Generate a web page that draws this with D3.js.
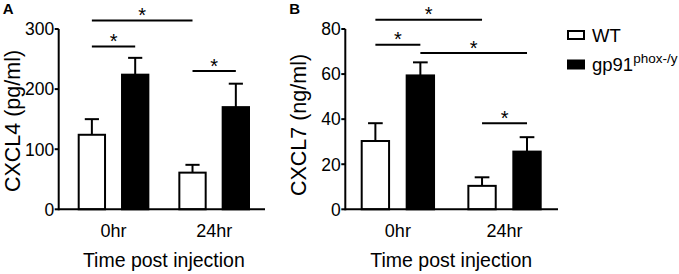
<html>
<head>
<script src="https://d3js.org/d3.v7.min.js"></script>
<style>
  body { margin: 0; background: #fff; }
  text { font-family: "Liberation Sans", Arial, sans-serif; fill: #000; }
</style>
</head>
<body>
<svg width="679" height="274"></svg>
<script>
// chart values
const groups = ["0hr", "24hr"];
const series = ["WT", "gp91"];

const cxcl4WT = [124, 61];
const cxcl4WTsem = [26, 13];
const cxcl4Gp = [224, 170];
const cxcl4GpSem = [28, 39];
const cxcl4Ticks = [0, 100, 200, 300];
// comparisons: [series, group] -> [series, group] at a level in data units
const cxcl4Sig = [
  {a: ["WT", "0hr"], b: ["WT", "24hr"], level: 314},
  {a: ["WT", "0hr"], b: ["gp91", "0hr"], level: 271},
  {a: ["WT", "24hr"], b: ["gp91", "24hr"], level: 230}
];

const cxcl7WT = [30.3, 10.4];
const cxcl7WTsem = [7.9, 3.8];
const cxcl7Gp = [59.4, 25.6];
const cxcl7GpSem = [5.8, 6.4];
const cxcl7Ticks = [0, 20, 40, 60, 80];
const cxcl7Sig = [
  {a: ["WT", "0hr"], b: ["WT", "24hr"], level: 84.1},
  {a: ["WT", "0hr"], b: ["gp91", "0hr"], level: 73},
  {a: ["gp91", "0hr"], b: ["gp91", "24hr"], level: 69.3},
  {a: ["WT", "24hr"], b: ["gp91", "24hr"], level: 38.2}
];

const svg = d3.select("svg");

function drawPanel(opt) {
  const g = svg.append("g");
  const y = d3.scaleLinear().domain([0, opt.max]).range([209.3, 29]);
  const x = d3.scaleBand().domain(groups).range(opt.range)
              .paddingInner(opt.padInner).paddingOuter(0);
  const xs = d3.scaleBand().domain(series).range([0, x.bandwidth()])
               .paddingInner(opt.padSub).paddingOuter(0);

  const bars = [];
  groups.forEach((grp, i) => {
    bars.push({s: "WT", g: grp, v: opt.wt[i], e: opt.wtSem[i]});
    bars.push({s: "gp91", g: grp, v: opt.gp[i], e: opt.gpSem[i]});
  });
  const cx = (s, grp) => x(grp) + xs(s) + xs.bandwidth() / 2;

  // error bars (upper only)
  g.selectAll("line.err").data(bars).join("line").attr("class", "err")
    .attr("x1", d => cx(d.s, d.g)).attr("x2", d => cx(d.s, d.g))
    .attr("y1", d => y(d.v)).attr("y2", d => y(d.v + d.e))
    .attr("stroke", "#000").attr("stroke-width", 2);
  g.selectAll("line.cap").data(bars).join("line").attr("class", "cap")
    .attr("x1", d => cx(d.s, d.g) - xs.bandwidth() / 4)
    .attr("x2", d => cx(d.s, d.g) + xs.bandwidth() / 4)
    .attr("y1", d => y(d.v + d.e)).attr("y2", d => y(d.v + d.e))
    .attr("stroke", "#000").attr("stroke-width", 2);

  g.selectAll("rect.bar").data(bars).join("rect").attr("class", "bar")
    .attr("x", d => x(d.g) + xs(d.s) + 1)
    .attr("width", xs.bandwidth() - 2)
    .attr("y", d => y(d.v))
    .attr("height", d => y(0) - y(d.v))
    .attr("fill", d => d.s === "WT" ? "#fff" : "#000")
    .attr("stroke", "#000").attr("stroke-width", 2);

  // axes
  g.append("line").attr("x1", opt.axisX).attr("x2", opt.axisEnd)
    .attr("y1", y(0)).attr("y2", y(0)).attr("stroke", "#000").attr("stroke-width", 2);
  g.append("line").attr("x1", opt.axisX).attr("x2", opt.axisX)
    .attr("y1", y(0) + 1).attr("y2", y(opt.max)).attr("stroke", "#000").attr("stroke-width", 2);
  g.selectAll("line.tick").data(opt.ticks).join("line").attr("class", "tick")
    .attr("x1", opt.axisX - 4).attr("x2", opt.axisX)
    .attr("y1", d => y(d)).attr("y2", d => y(d))
    .attr("stroke", "#000").attr("stroke-width", 2);
  g.selectAll("text.ytl").data(opt.ticks).join("text").attr("class", "ytl")
    .attr("x", opt.axisX - 4.5).attr("y", d => y(d))
    .attr("dy", "0.36em").attr("text-anchor", "end")
    .style("font-size", "17.5px").text(d => d);
  g.selectAll("text.xtl").data(groups).join("text").attr("class", "xtl")
    .attr("x", d => x(d) + x.bandwidth() / 2).attr("y", 237)
    .attr("text-anchor", "middle").style("font-size", "18px").text(d => d);

  g.append("text").attr("x", (opt.range[0] + opt.range[1]) / 2).attr("y", 267)
    .attr("text-anchor", "middle").style("font-size", "19.5px").text("Time post injection");
  g.append("text")
    .attr("transform", `translate(${opt.axisX - 39},${opt.labelY}) rotate(-90)`)
    .attr("text-anchor", "middle").style("font-size", "21.5px").text(opt.label);
  g.append("text").attr("x", opt.axisX - 56).attr("y", 14)
    .style("font-size", "15px").style("font-weight", "bold").text(opt.letter);

  // significance bars
  g.selectAll("line.sig").data(opt.sig).join("line").attr("class", "sig")
    .attr("x1", d => cx(d.a[0], d.a[1])).attr("x2", d => cx(d.b[0], d.b[1]))
    .attr("y1", d => y(d.level)).attr("y2", d => y(d.level))
    .attr("stroke", "#000").attr("stroke-width", 2);
  g.selectAll("text.star").data(opt.sig).join("text").attr("class", "star")
    .attr("x", d => (cx(d.a[0], d.a[1]) + cx(d.b[0], d.b[1])) / 2)
    .attr("y", d => y(d.level) + 1.5)
    .attr("text-anchor", "middle").style("font-size", "20px").text("*");
}

drawPanel({letter: "A", label: "CXCL4 (pg/ml)", max: 300, ticks: cxcl4Ticks,
  wt: cxcl4WT, wtSem: cxcl4WTsem, gp: cxcl4Gp, gpSem: cxcl4GpSem, sig: cxcl4Sig,
  axisX: 58.7, axisEnd: 265, range: [77.7, 250], padInner: 0.288, padSub: 0.346, labelY: 121});
drawPanel({letter: "B", label: "CXCL7 (ng/ml)", max: 80, ticks: cxcl7Ticks,
  wt: cxcl7WT, wtSem: cxcl7WTsem, gp: cxcl7Gp, gpSem: cxcl7GpSem, sig: cxcl7Sig,
  axisX: 345.3, axisEnd: 558, range: [360.7, 541.7], padInner: 0.303, padSub: 0.347, labelY: 125});

// legend
const legend = svg.append("g").selectAll("g").data(series).join("g")
  .attr("transform", (d, i) => `translate(567,${30 + i * 29.5})`);
legend.append("rect").attr("x", 1).attr("y", 1).attr("width", 16).attr("height", 8)
  .attr("fill", d => d === "WT" ? "#fff" : "#000").attr("stroke", "#000").attr("stroke-width", 2);
const lt = legend.append("text").attr("x", 25).attr("y", 11.5).style("font-size", "18.5px");
lt.append("tspan").text(d => d);
lt.filter(d => d === "gp91").append("tspan").attr("dy", -8).style("font-size", "13.5px").text("phox-/y");
</script>
</body>
</html>
